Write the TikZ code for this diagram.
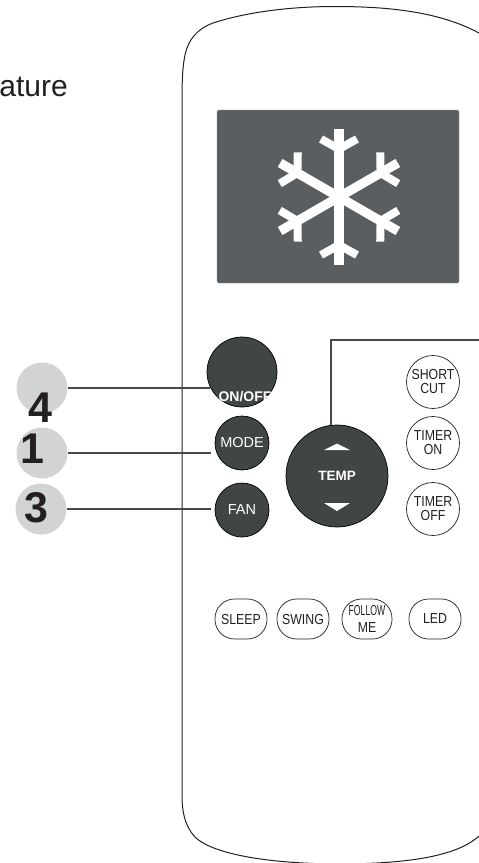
\documentclass[tikz,border=0pt]{standalone}
\usepackage{fontspec}
\setmainfont{Liberation Sans}
\newfontfamily\btnfont[FakeStretch=0.85]{Liberation Sans}
\newfontfamily\slimfont[FakeStretch=0.6]{Liberation Sans}
\usetikzlibrary{positioning, shapes.geometric}
\definecolor{cbtn}{HTML}{3F4644}
\definecolor{cscreen}{HTML}{5A5E60}
\definecolor{cbadge}{HTML}{D1D3D4}
\definecolor{cdark}{HTML}{231F20}
\definecolor{cline}{HTML}{4A4A4A}

\begin{document}
\begin{tikzpicture}[
    x=1pt, y=-1pt,
    casing/.style={line width=1pt, draw=cdark},
    screen/.style={
        rectangle, rounded corners=1.5pt, fill=cscreen, draw=cscreen!70,
        line width=0.4pt, minimum width=242pt, minimum height=173pt,
        inner sep=0pt
    },
    darkbtn/.style={
        circle, draw=black, fill=cbtn, line width=0.7pt, text=white,
        inner sep=0pt, font=\fontsize{14.5}{15}\selectfont
    },
    roundbtn/.style={
        circle, draw=cdark, fill=white, line width=0.7pt, minimum size=53pt,
        inner sep=0pt, align=center, text=cdark,
        font=\btnfont\fontsize{14.5}{14}\selectfont
    },
    ovalbtn/.style={
        rectangle, rounded corners=19.5pt, draw=cdark, fill=white,
        line width=0.7pt, minimum width=52pt, minimum height=40pt,
        inner sep=0pt, align=center, text=cdark,
        font=\btnfont\fontsize{14.5}{14}\selectfont
    },
    badge/.style={
        circle, fill=cbadge, minimum size=51pt, inner sep=0pt
    },
    numeral/.style={
        font=\bfseries\fontsize{43}{43}\selectfont, text=cdark, inner sep=0pt
    },
    leader/.style={line width=1.1pt, draw=cline},
    flake/.style={line width=9.3pt, draw=white},
    twig/.style={line width=8pt, draw=white},
]

\useasboundingbox (0,0) rectangle (479,863);

% --- Caption cut by the page edge ---------------------------------------------
\node[anchor=base east, inner sep=0pt, font=\fontsize{30}{30}\selectfont, text=cdark]
    (caption) at (68,96) {ature};

% --- Casing, open to the right -------------------------------------------------
\draw[casing] (479,33) .. controls (440,12) and (390,6.5) .. (335,6.5)
    .. controls (295,6.5) and (250,11) .. (213,23)
    .. controls (197,29) and (188,40) .. (185,55)
    .. controls (183,65) and (182,75) .. (182,100)
    -- (182,795)
    .. controls (182,810) and (184,825) .. (195,837)
    .. controls (208,850) and (250,863) .. (335,864)
    .. controls (400,864) and (455,858) .. (479,836);

% --- Display -------------------------------------------------------------------
\node[screen] (display) at (338,196.5) {};
\foreach \ang in {0,60,...,300} {
    \begin{scope}[shift={(339,197)}, rotate=\ang]
        \draw[flake] (0,0) -- (0,-68);
        \draw[twig] (0,-48) -- (-18,-58);
        \draw[twig] (0,-48) -- (18,-58);
    \end{scope}
}

% --- Dark buttons -------------------------------------------------------------
\node[darkbtn, minimum size=70pt] (onoff) at (242,372) {};
\node[text=white, inner sep=0pt, font=\bfseries\fontsize{14}{14}\selectfont]
    (onofflabel) at (245,397) {ON/OFF};
\node[darkbtn, minimum size=54pt] (mode) at (242,443) {MODE};
\node[darkbtn, minimum size=54pt] (fan)  at (242,510) {FAN};
\node[darkbtn, minimum size=102pt, font=\bfseries\fontsize{13.5}{15}\selectfont]
    (temp) at (337,476) {TEMP};
\fill[white] (324,450) -- (337,443.5) -- (350,450) -- cycle;
\fill[white] (324,503) -- (337,511) -- (350,503) -- cycle;

% --- Round buttons ------------------------------------------------------------
\node[roundbtn] (shortcut) at (433,382) {SHORT\\CUT};
\node[roundbtn] (timeron)  at (433,443) {TIMER\\ON};
\node[roundbtn] (timeroff) at (433,509) {TIMER\\OFF};

% --- Bottom row ---------------------------------------------------------------
\node[ovalbtn] (sleep)  at (241,619) {SLEEP};
\node[ovalbtn] (swing)  at (303,619) {SWING};
\node[ovalbtn, minimum width=50pt] (follow) at (367,619)
    {{\slimfont FOLLOW}\\[3pt]ME};
\node[ovalbtn] (led)    at (435,619) {LED};

% --- Step badges --------------------------------------------------------------
\node[badge] (badgefour)  at (42,388) {};
\node[badge] (badgeone)   at (42,453) {};
\node[badge] (badgethree) at (41,509) {};
\node[numeral] (numfour)  at (40,408) {4};
\node[numeral] (numone)   at (32,449) {1};
\node[numeral] (numthree) at (36,508) {3};

% --- Leaders ------------------------------------------------------------------
\coordinate (tempcorner) at (331,340);
\coordinate (tempend) at (479,340);
\draw[leader, shorten >=-3pt] (badgefour.east) -- (onoff.west |- badgefour.east);
\draw[leader, shorten >=4pt] (badgeone.east) -- (mode.west |- badgeone.east);
\draw[leader, shorten >=4pt] (badgethree.east) -- (fan.west |- badgethree.east);
\draw[leader] (temp.north -| tempcorner) -- (tempcorner) -- (tempend);

\end{tikzpicture}
\end{document}
